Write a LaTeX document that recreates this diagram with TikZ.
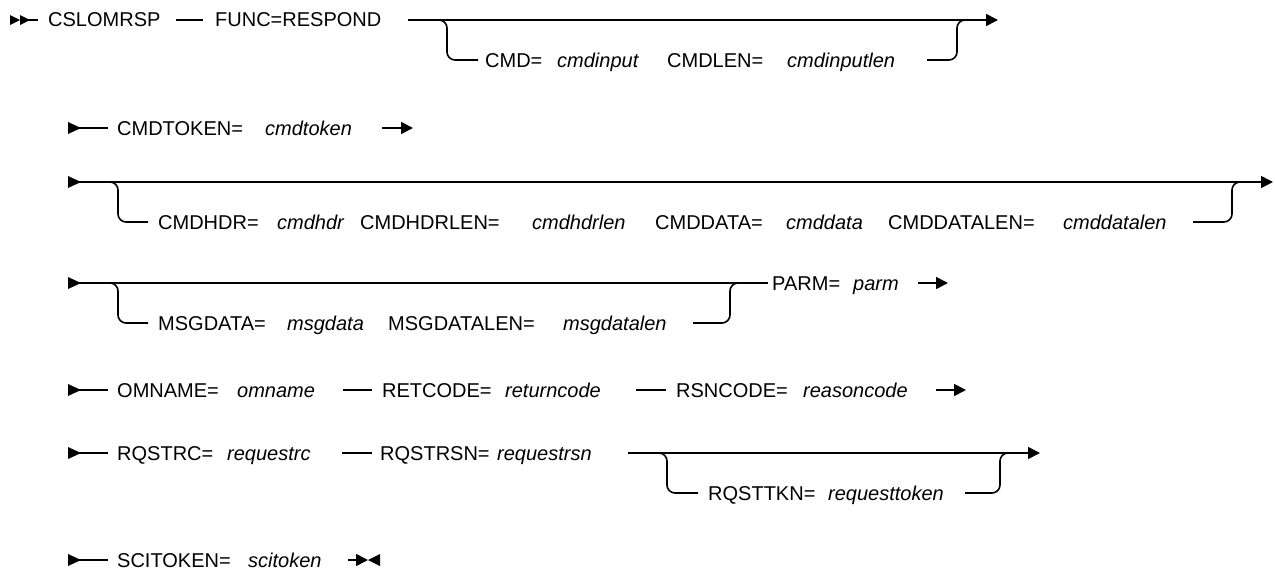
\documentclass[tikz,border=0pt]{standalone}
\usepackage{fontspec}
\setmainfont{Liberation Sans}
\usetikzlibrary{arrows.meta}
\begin{document}
\begin{tikzpicture}[x=1pt,y=-1pt,
  every node/.style={inner sep=0pt, anchor=base west, font=\fontsize{20}{24}\selectfont},
  var/.style={font=\fontsize{20}{24}\selectfont\itshape},
  rail/.style={line width=1.6pt},
  railend/.style={rail,-{Triangle[length=12pt,width=12pt]}},
  branch/.style={rail, rounded corners=8pt},
  tri/.style={fill=black}]
\useasboundingbox (0,0) rectangle (1275,570);

% ---------- Row 1 ----------
\fill[tri] (10,15) -- (20,20) -- (10,25) -- cycle;
\fill[tri] (20,15) -- (30,20) -- (20,25) -- cycle;
\coordinate (s1a) at (20,20); \coordinate (s1b) at (38,20);
\draw[rail] (s1a) -- (s1b);
\node (cslomrsp) at (48,27) {CSLOMRSP};
\coordinate (d1a) at (176,20); \coordinate (d1b) at (203,20);
\draw[rail] (d1a) -- (d1b);
\node (func) at (215,27) {FUNC=RESPOND};
\coordinate (m1a) at (408,20); \coordinate (m1b) at (998,20);
\draw[railend] (m1a) -- (m1b);
\coordinate (b1a) at (430,20); \coordinate (b1b) at (478,60);
\draw[branch] (b1a) -- (447,20) -- (447,60) -- (b1b);
\node (cmd) at (485,67) {CMD=};
\node[var] (cmdinput) at (557,67) {cmdinput};
\node (cmdlen) at (667,67) {CMDLEN=};
\node[var] (cmdinputlen) at (787,67) {cmdinputlen};
\coordinate (b1c) at (927,60); \coordinate (b1d) at (975,20);
\draw[branch] (b1c) -- (957,60) -- (957,20) -- (b1d);

% ---------- Row 2 ----------
\fill[tri] (68,122) -- (81,128) -- (68,134) -- cycle;
\coordinate (s2a) at (78,128); \coordinate (s2b) at (108,128);
\draw[rail] (s2a) -- (s2b);
\node (cmdtoken) at (117,135) {CMDTOKEN=};
\node[var] (cmdtokenv) at (265,135) {cmdtoken};
\coordinate (e2a) at (382,128); \coordinate (e2b) at (413,128);
\draw[railend] (e2a) -- (e2b);

% ---------- Row 3 ----------
\fill[tri] (68,176) -- (81,182) -- (68,188) -- cycle;
\coordinate (m3a) at (78,182); \coordinate (m3b) at (1273,182);
\draw[railend] (m3a) -- (m3b);
\coordinate (b3a) at (100,182); \coordinate (b3b) at (148,222);
\draw[branch] (b3a) -- (118,182) -- (118,222) -- (b3b);
\node (cmdhdr) at (158,229) {CMDHDR=};
\node[var] (cmdhdrv) at (277,229) {cmdhdr};
\node (cmdhdrlen) at (360,229) {CMDHDRLEN=};
\node[var] (cmdhdrlenv) at (532,229) {cmdhdrlen};
\node (cmddata) at (655,229) {CMDDATA=};
\node[var] (cmddatav) at (786,229) {cmddata};
\node (cmddatalen) at (888,229) {CMDDATALEN=};
\node[var] (cmddatalenv) at (1063,229) {cmddatalen};
\coordinate (b3c) at (1193,222); \coordinate (b3d) at (1250,182);
\draw[branch] (b3c) -- (1232,222) -- (1232,182) -- (b3d);

% ---------- Row 4 ----------
\fill[tri] (68,277) -- (81,283) -- (68,289) -- cycle;
\coordinate (m4a) at (78,283); \coordinate (m4b) at (768,283);
\draw[rail] (m4a) -- (m4b);
\coordinate (b4a) at (100,283); \coordinate (b4b) at (148,323);
\draw[branch] (b4a) -- (118,283) -- (118,323) -- (b4b);
\node (msgdata) at (158,330) {MSGDATA=};
\node[var] (msgdatav) at (287,330) {msgdata};
\node (msgdatalen) at (388,330) {MSGDATALEN=};
\node[var] (msgdatalenv) at (563,330) {msgdatalen};
\coordinate (b4c) at (693,323); \coordinate (b4d) at (748,283);
\draw[branch] (b4c) -- (730,323) -- (730,283) -- (b4d);
\node (parm) at (772,290) {PARM=};
\node[var] (parmv) at (853,290) {parm};
\coordinate (e4a) at (918,283); \coordinate (e4b) at (948,283);
\draw[railend] (e4a) -- (e4b);

% ---------- Row 5 ----------
\fill[tri] (68,384) -- (81,390) -- (68,396) -- cycle;
\coordinate (s5a) at (78,390); \coordinate (s5b) at (108,390);
\draw[rail] (s5a) -- (s5b);
\node (omname) at (117,397) {OMNAME=};
\node[var] (omnamev) at (237,397) {omname};
\coordinate (d5a) at (343,390); \coordinate (d5b) at (372,390);
\draw[rail] (d5a) -- (d5b);
\node (retcode) at (382,397) {RETCODE=};
\node[var] (retcodev) at (505,397) {returncode};
\coordinate (d5c) at (636,390); \coordinate (d5d) at (666,390);
\draw[rail] (d5c) -- (d5d);
\node (rsncode) at (676,397) {RSNCODE=};
\node[var] (rsncodev) at (803,397) {reasoncode};
\coordinate (e5a) at (936,390); \coordinate (e5b) at (966,390);
\draw[railend] (e5a) -- (e5b);

% ---------- Row 6 ----------
\fill[tri] (68,447) -- (81,453) -- (68,459) -- cycle;
\coordinate (s6a) at (78,453); \coordinate (s6b) at (108,453);
\draw[rail] (s6a) -- (s6b);
\node (rqstrc) at (117,460) {RQSTRC=};
\node[var] (rqstrcv) at (227,460) {requestrc};
\coordinate (d6a) at (342,453); \coordinate (d6b) at (372,453);
\draw[rail] (d6a) -- (d6b);
\node (rqstrsn) at (380,460) {RQSTRSN=};
\node[var] (rqstrsnv) at (497,460) {requestrsn};
\coordinate (m6a) at (628,453); \coordinate (m6b) at (1040,453);
\draw[railend] (m6a) -- (m6b);
\coordinate (b6a) at (650,453); \coordinate (b6b) at (698,493);
\draw[branch] (b6a) -- (667,453) -- (667,493) -- (b6b);
\node (rqsttkn) at (708,500) {RQSTTKN=};
\node[var] (rqsttknv) at (828,500) {requesttoken};
\coordinate (b6c) at (965,493); \coordinate (b6d) at (1018,453);
\draw[branch] (b6c) -- (1000,493) -- (1000,453) -- (b6d);

% ---------- Row 7 ----------
\fill[tri] (68,554) -- (81,560) -- (68,566) -- cycle;
\coordinate (s7a) at (78,560); \coordinate (s7b) at (108,560);
\draw[rail] (s7a) -- (s7b);
\node (scitoken) at (117,567) {SCITOKEN=};
\node[var] (scitokenv) at (248,567) {scitoken};
\coordinate (e7a) at (348,560); \coordinate (e7b) at (368,560);
\draw[railend] (e7a) -- (e7b);
\fill[tri] (380,554) -- (368,560) -- (380,566) -- cycle;
\end{tikzpicture}
\end{document}
